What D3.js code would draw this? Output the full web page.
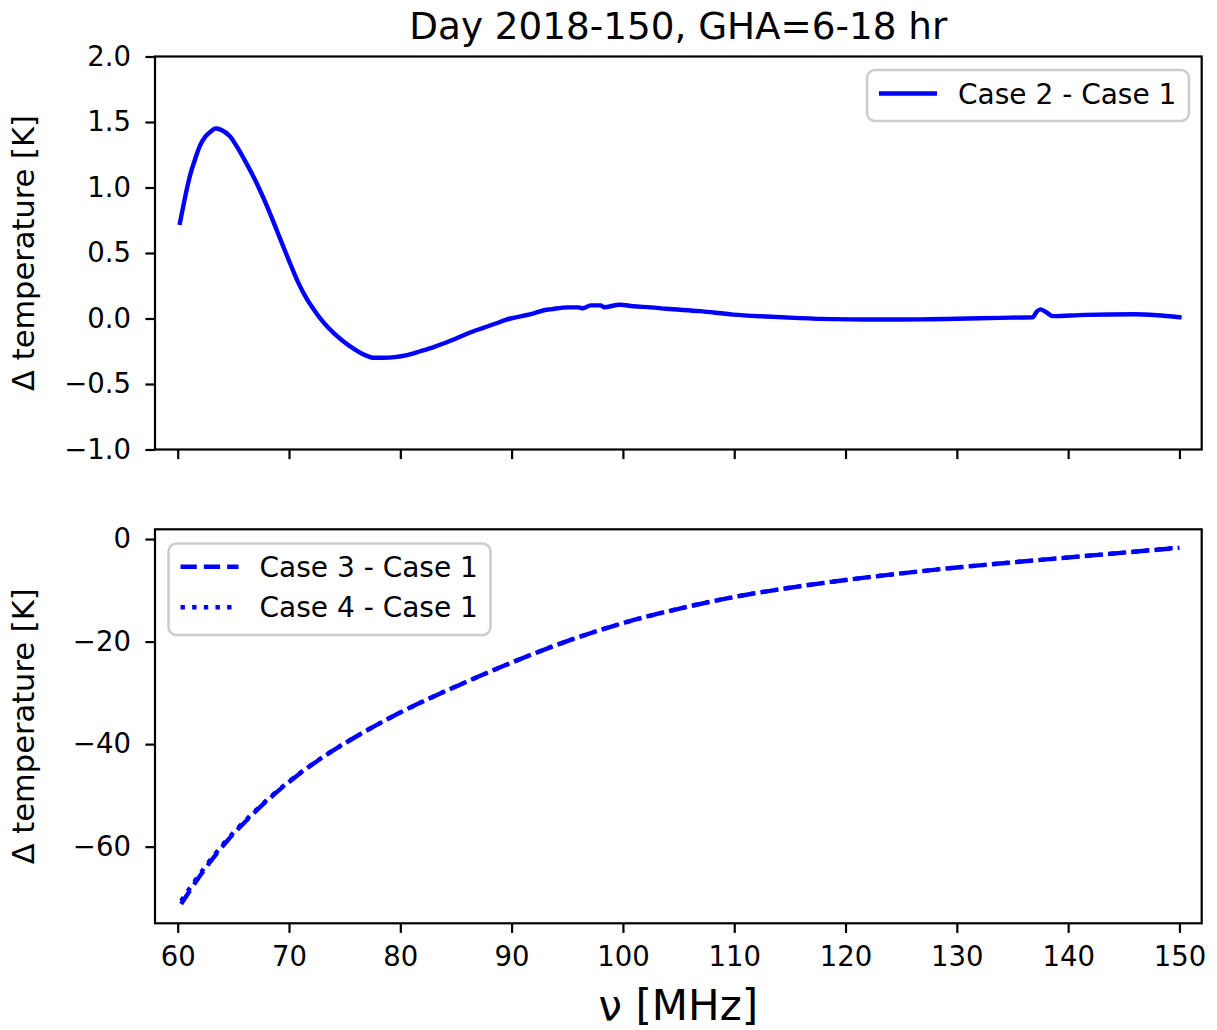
<!DOCTYPE html>
<html>
<head>
<meta charset="utf-8">
<script src="https://cdn.jsdelivr.net/npm/d3@7"></script>
<style>
  html, body { margin: 0; padding: 0; background: #ffffff; }
  svg { display: block; font-family: "DejaVu Sans", sans-serif; }
</style>
</head>
<body>
<svg id="chart" width="1217" height="1030"></svg>
<script>
// Frequency axis (MHz)
const xTicks = [60, 70, 80, 90, 100, 110, 120, 130, 140, 150];

// Case 2 - Case 1 difference: frequency (MHz) and ΔT (K)
const case2Freq = [60.2, 60.6, 61.1, 61.5, 62.0, 62.5, 63.0, 63.4, 63.9, 64.7, 65.4, 66.2, 67.0, 67.7,
  68.4, 69.2, 70.1, 70.8, 71.6, 72.3, 73.1, 74.0, 74.9, 75.9, 77.0, 77.6, 78.5, 79.5, 80.6, 81.8,
  83.0, 84.5, 86.0, 87.5, 88.5, 89.9, 91.0, 92.0, 93.0, 93.5, 95.0, 96.0, 96.4, 97.1, 98.0, 98.3,
  99.7, 100.9, 102.5, 103.9, 106.9, 109.9, 112.9, 115.9, 118.9, 121.9, 124.9, 127.5, 130.0, 133.9,
  136.8, 137.2, 137.5, 138.0, 138.6, 141.5, 145.9, 148.0, 150.0];
const case2Delta = [0.73, 0.90, 1.09, 1.20, 1.32, 1.39, 1.43, 1.45, 1.44, 1.39, 1.30, 1.18, 1.05, 0.92,
  0.78, 0.61, 0.42, 0.28, 0.15, 0.06, -0.03, -0.11, -0.175, -0.235, -0.285, -0.30, -0.30, -0.295, -0.28, -0.25,
  -0.218, -0.17, -0.116, -0.07, -0.04, 0.0, 0.02, 0.04, 0.065, 0.07, 0.085, 0.085, 0.078, 0.10, 0.10, 0.086,
  0.105, 0.094, 0.085, 0.074, 0.056, 0.03, 0.015, 0.003, -0.005, -0.008, -0.008, -0.006, -0.002, 0.005,
  0.01, 0.055, 0.07, 0.05, 0.018, 0.028, 0.033, 0.025, 0.01];

// Case 3 / Case 4 - Case 1 differences
const lowFreq = [60.3, 62.3, 64.4, 66.5, 68.3, 70.4, 72.8, 75.2, 77.6, 80.3, 83.3, 86.0, 90.0, 95.0,
  100.0, 105.0, 110.0, 115.0, 120.0, 125.0, 130.0, 135.0, 140.0, 145.0, 150.0];
const case3Delta = [-71.2, -64.8, -59.0, -54.2, -50.5, -46.7, -42.9, -39.6, -36.6, -33.5, -30.4, -27.8, -24.1, -19.9,
  -16.4, -13.6, -11.3, -9.5, -8.0, -6.7, -5.55, -4.55, -3.6, -2.65, -1.7];
const case4Delta = [-70.6, -64.4, -58.7, -54.0, -50.35, -46.6, -42.85, -39.57, -36.58, -33.5, -30.4, -27.8, -24.1, -19.9,
  -16.4, -13.6, -11.3, -9.5, -8.0, -6.7, -5.55, -4.55, -3.6, -2.65, -1.65];

const topTicks = [-1.0, -0.5, 0.0, 0.5, 1.0, 1.5, 2.0];
const bottomTicks = [-60, -40, -20, 0];

const BLUE = "#0000ff";
const LW = 4.4;
const TICK_FONT = 27.5;

const svg = d3.select("#chart");
const left = 155, right = 1201.7;
const x = d3.scaleLinear().domain([57.96, 152.0]).range([left, right]);

function panel(top, bottom, yDomain, ticks, fmt, labelX) {
  const y = d3.scaleLinear().domain(yDomain).range([bottom, top]);
  const g = svg.append("g");

  const ax = d3.axisBottom(x).tickValues(xTicks).tickSize(9.6).tickPadding(14)
    .tickFormat(labelX ? d3.format("d") : () => "");
  const gx = g.append("g").attr("transform", `translate(0,${bottom})`).call(ax);
  const ay = d3.axisLeft(y).tickValues(ticks).tickSize(9.6).tickPadding(14.5).tickFormat(fmt);
  const gy = g.append("g").attr("transform", `translate(${left},0)`).call(ay);
  [gx, gy].forEach(a => {
    a.select(".domain").remove();
    a.selectAll(".tick line").attr("stroke", "#000").attr("stroke-width", 2.2);
    a.selectAll(".tick text").attr("fill", "#000").style("font-size", TICK_FONT + "px")
      .style("font-family", "DejaVu Sans");
  });

  g.append("rect").attr("x", left).attr("y", top).attr("width", right - left).attr("height", bottom - top)
    .attr("fill", "none").attr("stroke", "#000").attr("stroke-width", 2.2);

  g.append("text")
    .attr("transform", `translate(34,${(top + bottom) / 2}) rotate(-90)`)
    .attr("text-anchor", "middle").style("font-size", "30.5px").text("Δ temperature [K]");
  return { g, y };
}

function drawLine(g, y, fx, fy, dash) {
  const line = d3.line().x((d, i) => x(fx[i])).y(d => y(d)).curve(d3.curveMonotoneX);
  g.append("path").datum(fy).attr("d", line)
    .attr("fill", "none").attr("stroke", BLUE).attr("stroke-width", LW)
    .attr("stroke-linejoin", "round").attr("stroke-linecap", dash ? "butt" : "square")
    .attr("stroke-dasharray", dash || null);
}

function legend(g, bx, by, bw, bh, rows) {
  g.append("rect").attr("x", bx).attr("y", by).attr("width", bw).attr("height", bh)
    .attr("rx", 8).attr("ry", 8).attr("fill", "#fff").attr("fill-opacity", 0.8)
    .attr("stroke", "#cccccc").attr("stroke-width", 2.5);
  rows.forEach(r => {
    g.append("line").attr("x1", bx + 12).attr("x2", bx + 70).attr("y1", r.cy).attr("y2", r.cy)
      .attr("stroke", BLUE).attr("stroke-width", LW).attr("stroke-linecap", "butt")
      .attr("stroke-dasharray", r.dash || null);
    g.append("text").attr("x", bx + 91).attr("y", r.cy + 10)
      .style("font-size", "28px").text(r.label);
  });
}

// Upper panel
const p1 = panel(56.5, 449.5, [-1, 2], topTicks, d3.format(".1f"), false);
drawLine(p1.g, p1.y, case2Freq, case2Delta, null);
legend(p1.g, 867, 70, 322, 51, [{ cy: 93.5, label: "Case 2 - Case 1" }]);

// Lower panel
const p2 = panel(529.3, 923.3, [-74.95, 1.9], bottomTicks, d3.format("d"), true);
drawLine(p2.g, p2.y, lowFreq, case3Delta, `${3.7 * LW},${1.6 * LW}`);
drawLine(p2.g, p2.y, lowFreq, case4Delta, `${1 * LW},${1.65 * LW}`);
legend(p2.g, 168.5, 543.5, 322, 91.5, [
  { cy: 566.7, label: "Case 3 - Case 1", dash: `${3.7 * LW},${1.6 * LW}` },
  { cy: 607.3, label: "Case 4 - Case 1", dash: `${1 * LW},${1.65 * LW}` }
]);

// Title and frequency label
svg.append("text").attr("x", (left + right) / 2).attr("y", 38.5).attr("text-anchor", "middle")
  .style("font-size", "37.3px").text("Day 2018-150, GHA=6-18 hr");
svg.append("text").attr("x", (left + right) / 2).attr("y", 1020).attr("text-anchor", "middle")
  .style("font-size", "42px").text("ν [MHz]");
</script>
</body>
</html>
